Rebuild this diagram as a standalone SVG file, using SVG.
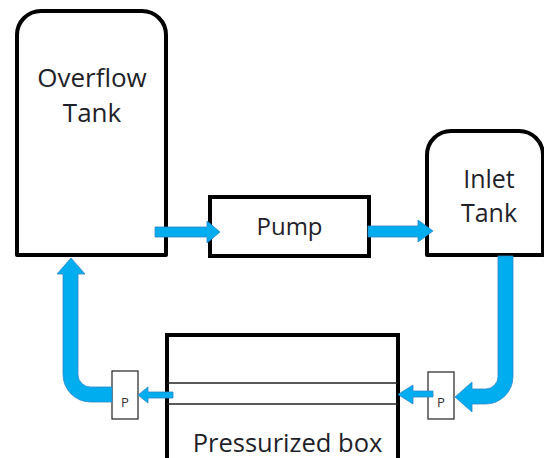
<svg xmlns="http://www.w3.org/2000/svg" width="544" height="458" viewBox="0 0 544 458">
<style>
.tank{fill:#fff;stroke:#000;stroke-width:4;stroke-linejoin:round}
.box{fill:#fff;stroke:#000;stroke-width:4}
.thin{fill:#fff;stroke:#222;stroke-width:1.2}
.line{stroke:#222;stroke-width:1.5;fill:none}
.lbl{font-family:"Open Sans","Liberation Sans",sans-serif;fill:#1f1f2a;text-anchor:middle}
.p{font-family:"Open Sans","Liberation Sans",sans-serif;font-size:13px;fill:#333;text-anchor:middle}
.flow{fill:#00ADEF;stroke:#2E86C8;stroke-width:0.8;stroke-linejoin:miter}
</style>
<rect width="544" height="458" fill="#fff"/>
<g id="overflow-tank">
<path class="tank" d="M17,255 V35 A24,24 0 0 1 41,11 H142 A24,24 0 0 1 166,35 V255 Z"/>
<text class="lbl" x="92" y="87" font-size="26">Overflow</text>
<text class="lbl" x="92" y="122" font-size="26">Tank</text>
</g>
<g id="pump">
<rect class="box" x="210" y="197" width="159" height="59"/>
<text class="lbl" x="289.5" y="235" font-size="24">Pump</text>
</g>
<g id="inlet-tank">
<path class="tank" d="M427,255 V155 A24,24 0 0 1 451,131 H519 A24,24 0 0 1 543,155 V255 Z"/>
<text class="lbl" x="489" y="188" font-size="25">Inlet</text>
<text class="lbl" x="489" y="222" font-size="25">Tank</text>
</g>
<g id="pressurized-box">
<rect class="box" x="167" y="335" width="231" height="135" stroke-width="4.5"/>
<line class="line" x1="167" y1="383" x2="398" y2="383"/>
<line class="line" x1="167" y1="404" x2="398" y2="404"/>
<text class="lbl" x="287.5" y="452" font-size="25.5">Pressurized box</text>
</g>
<g id="p-left">
<rect class="thin" x="112" y="371" width="26" height="48"/>
<text class="p" x="125" y="407">P</text>
</g>
<g id="p-right">
<rect class="thin" x="428" y="372" width="26" height="47"/>
<text class="p" x="441" y="407">P</text>
</g>
<g id="connectors">
<path class="flow" d="M155,227 H207 V221 L220,232 L207,243 V237 H155 Z"/>
<path class="flow" d="M368,226 H418 V220 L433,231 L418,242 V237 H368 Z"/>
<path class="flow" d="M498,256 V376.5 A12.5,12.5 0 0 1 485.5,389 H472 V382 L455,397 L472,412 V404 H485.5 A27.5,27.5 0 0 0 513,376.5 V256 Z"/>
<path class="flow" d="M112,387 H90.5 A12.5,12.5 0 0 1 78,374.5 V274 H85 L71,258 L57,274 H63 V374.5 A27.5,27.5 0 0 0 90.5,402 H112 Z"/>
<path class="flow" d="M173,392 H148 V387 L138,395 L148,403 V398 H173 Z"/>
<path class="flow" d="M433,391 H413 V385 L398,394.5 L413,404 V397 H433 Z"/>
</g>
</svg>
